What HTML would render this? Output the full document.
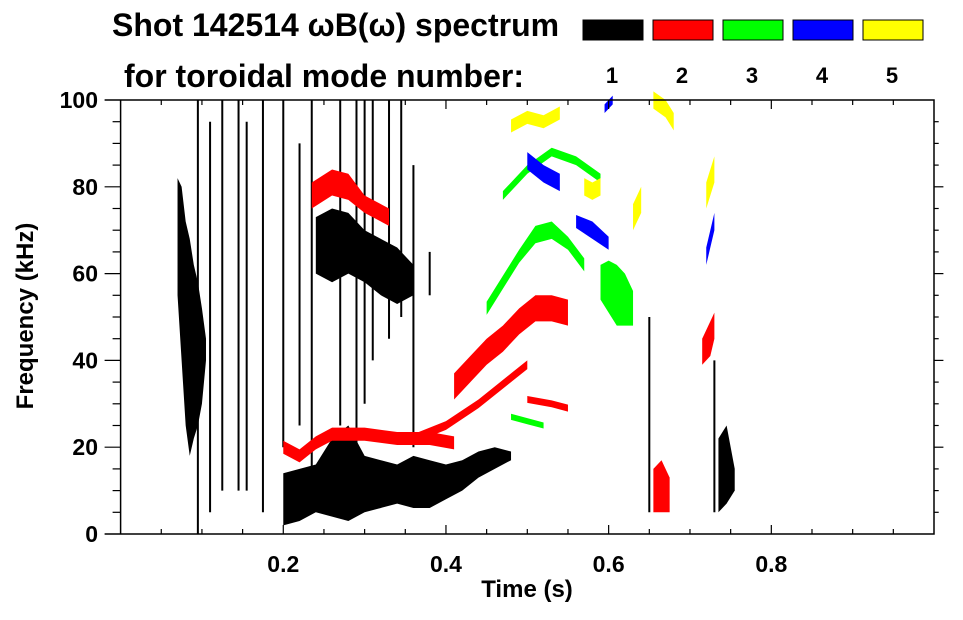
<!DOCTYPE html>
<html><head><meta charset="utf-8"><style>
body{margin:0;background:#fff;width:963px;height:615px;overflow:hidden;font-family:"Liberation Sans",sans-serif}
svg text{font-family:"Liberation Sans",sans-serif;font-weight:bold;fill:#000}
</style></head><body>
<svg id="chart" width="963" height="615">
<text x="112" y="36" font-size="32">Shot 142514 ωB(ω) spectrum</text>
<text x="124" y="87" font-size="32">for toroidal mode number:</text>
<g id="legend"></g>
<g id="marks"></g>
<g id="axes"></g>
<text x="527" y="597" font-size="24" text-anchor="middle">Time (s)</text>
<text transform="translate(33,316) rotate(-90)" font-size="24" text-anchor="middle">Frequency (kHz)</text>
</svg>
<script>
const legendModes=["1","2","3","4","5"];
const legendColors=["#000","#f00","#0f0","#00f","#ff0"];
const xTicks=[0.2,0.4,0.6,0.8];
const yTicks=[0,20,40,60,80,100];
// features: time, low freq, high freq (kHz)
const fBlackEarlyT=[0.07,0.075,0.08,0.085,0.09,0.095,0.1,0.105];
const fBlackEarlyLo=[55,40,25,18,22,25,30,40];
const fBlackEarlyHi=[82,80,72,68,62,58,52,45];
const fBlackLowT=[0.2,0.22,0.24,0.26,0.28,0.3,0.32,0.34,0.36,0.38,0.4,0.42,0.44,0.46,0.48];
const fBlackLowLo=[2,3,5,4,3,5,6,7,6,6,8,10,13,15,17];
const fBlackLowHi=[14,15,16,22,25,18,17,16,18,17,16,17,19,20,19];
const fBlackUpT=[0.24,0.26,0.28,0.3,0.32,0.34,0.36];
const fBlackUpLo=[60,58,60,58,55,53,55];
const fBlackUpHi=[73,75,74,70,68,66,62];
const fBlackEndT=[0.735,0.745,0.755];
const fBlackEndLo=[5,7,10];
const fBlackEndHi=[22,25,15];
const streakT=[0.095,0.11,0.125,0.145,0.155,0.175,0.2,0.22,0.235,0.27,0.29,0.3,0.31,0.33,0.345,0.36,0.38,0.65,0.73];
const streakLo=[0,5,10,10,10,5,20,25,5,25,10,30,40,45,50,20,55,5,5];
const streakHi=[100,95,100,100,95,100,100,90,100,100,100,100,100,100,100,85,65,50,40];
const r1T=[0.235,0.26,0.28,0.3,0.32,0.33], r1F=[78,81,80,76,74,73], r1W=[3,3,3,2,2,2];
const r2T=[0.2,0.22,0.24,0.26,0.3,0.34,0.38,0.41], r2F=[20,18,21,23,23,22,22,21], r2W=[1.5,1.5,1.5,1.5,1.5,1.5,1.5,1.5];
const r3T=[0.41,0.43,0.45,0.47,0.49,0.51,0.53,0.55], r3F=[34,38,42,45,49,52,52,51], r3W=[3,3,3,3,3,3,3,3];
const r4T=[0.36,0.4,0.44,0.48,0.5], r4F=[22,25,30,36,39], r4W=[1,1,1,1,1];
const r5T=[0.5,0.53,0.55], r5F=[31,30,29], r5W=[0.8,0.8,0.8];
const r6T=[0.655,0.665,0.675], r6F=[10,11,9], r6W=[5,6,4];
const r7T=[0.715,0.725,0.73], r7F=[42,45,48], r7W=[3,4,3];
const g1T=[0.45,0.47,0.49,0.51,0.53,0.55,0.57], g1F=[52,58,64,69,70,67,62], g1W=[1.5,1.5,1.5,2,2,1.5,1.5];
const g2T=[0.47,0.5,0.53,0.56,0.59], g2F=[78,84,88,86,82], g2W=[1,1,1,1,1];
const g3T=[0.59,0.6,0.61,0.62,0.63], g3F=[58,57,55,54,52], g3W=[4,6,7,6,4];
const g4T=[0.48,0.5,0.52], g4F=[27,26,25], g4W=[0.7,0.7,0.7];
const b1T=[0.5,0.52,0.54], b1F=[86,83,81], b1W=[2,2,2];
const b2T=[0.56,0.58,0.6], b2F=[72,70,67], b2W=[1.5,2,1.5];
const b3T=[0.595,0.605], b3F=[98,100], b3W=[1,1];
const b4T=[0.72,0.725,0.73], b4F=[64,68,72], b4W=[2,2,2];
const y1T=[0.48,0.5,0.52,0.54], y1F=[94,96,95,97], y1W=[1.5,1.5,1.5,1.5];
const y2T=[0.57,0.58,0.59], y2F=[80,79,80], y2W=[2,2,2];
const y3T=[0.63,0.64], y3F=[73,77], y3W=[3,3];
const y4T=[0.72,0.73], y4F=[78,84], y4W=[3,3];
const y5T=[0.655,0.67,0.68], y5F=[100,98,95], y5W=[2,2,2];

const NS="http://www.w3.org/2000/svg";
const X0=120.6,X1=934,Y0=534,Y1=100;
const xs=t=>X0+t*(X1-X0);
const ys=f=>Y0-f/100*(Y0-Y1);
function mk(tag,attrs,parent){const e=document.createElementNS(NS,tag);for(const k in attrs)e.setAttribute(k,attrs[k]);parent.appendChild(e);return e;}
const marks=document.getElementById('marks'),axes=document.getElementById('axes'),legend=document.getElementById('legend');

legendModes.forEach((m,i)=>{
  const r=mk('rect',{x:583+i*70,y:20,width:60,height:20,fill:legendColors[i],stroke:'#000','stroke-width':1},legend);
  
  
  const t=mk('text',{x:612+i*70,y:83,'font-size':22,'text-anchor':'middle'},legend);
  t.textContent=m;
  
  
});

function area(T,Lo,Hi,color,name){
  let d='M'+T.map((t,i)=>xs(t)+','+ys(Hi[i])).join('L');
  for(let i=T.length-1;i>=0;i--)d+='L'+xs(T[i])+','+ys(Lo[i]);
  const p=mk('path',{d:d+'Z',fill:color},marks);
  
  
}
function ridge(T,F,W,color,name){
  area(T,F.map((f,i)=>f-W[i]),F.map((f,i)=>f+W[i]),color,name);
}
streakT.forEach((t,i)=>{
  const l=mk('line',{x1:xs(t),x2:xs(t),y1:ys(streakLo[i]),y2:ys(streakHi[i]),stroke:'#000','stroke-width':2},marks);
  
  
});
area(fBlackEarlyT,fBlackEarlyLo,fBlackEarlyHi,'#000','mode1-early-burst');
area(fBlackLowT,fBlackLowLo,fBlackLowHi,'#000','mode1-low-band');
area(fBlackUpT,fBlackUpLo,fBlackUpHi,'#000','mode1-upper-band');
area(fBlackEndT,fBlackEndLo,fBlackEndHi,'#000','mode1-end-burst');
ridge(r1T,r1F,r1W,'#f00','mode2-ridge-high');
ridge(r2T,r2F,r2W,'#f00','mode2-ridge-low');
ridge(r3T,r3F,r3W,'#f00','mode2-ridge-rising');
ridge(r4T,r4F,r4W,'#f00','mode2-ridge-thin');
ridge(r5T,r5F,r5W,'#f00','mode2-ridge-30k');
ridge(r6T,r6F,r6W,'#f00','mode2-patch-late');
ridge(r7T,r7F,r7W,'#f00','mode2-patch-end');
ridge(g1T,g1F,g1W,'#0f0','mode3-ridge');
ridge(g2T,g2F,g2W,'#0f0','mode3-ridge-high');
ridge(g3T,g3F,g3W,'#0f0','mode3-blob');
ridge(g4T,g4F,g4W,'#0f0','mode3-ridge-low');
ridge(b1T,b1F,b1W,'#00f','mode4-ridge-1');
ridge(b2T,b2F,b2W,'#00f','mode4-ridge-2');
ridge(b3T,b3F,b3W,'#00f','mode4-ridge-3');
ridge(b4T,b4F,b4W,'#00f','mode4-ridge-4');
ridge(y1T,y1F,y1W,'#ff0','mode5-ridge-1');
ridge(y2T,y2F,y2W,'#ff0','mode5-ridge-2');
ridge(y3T,y3F,y3W,'#ff0','mode5-ridge-3');
ridge(y4T,y4F,y4W,'#ff0','mode5-ridge-4');
ridge(y5T,y5F,y5W,'#ff0','mode5-ridge-5');

const fr=mk('path',{d:`M${X0},${Y1}H${X1}V${Y0}H${X0-16}M${X0},${Y0}V${Y1}H${X0-16}`,fill:'none',stroke:'#000','stroke-width':1.5},axes);


for(let k=1;k<20;k++){
  const t=k*0.05, x=xs(t), len=(k%4==0)?9:5;
  mk('line',{x1:x,x2:x,y1:Y0,y2:Y0-len,stroke:'#000','stroke-width':1.2},axes);
  mk('line',{x1:x,x2:x,y1:Y1,y2:Y1+len,stroke:'#000','stroke-width':1.2},axes);
}
for(let k=1;k<20;k++){
  const f=k*5,y=ys(f),len=(k%4==0)?16:8;
  mk('line',{x1:X0,x2:X0-len,y1:y,y2:y,stroke:'#000','stroke-width':1.2},axes);
  mk('line',{x1:X1,x2:X1+len/1.7,y1:y,y2:y,stroke:'#000','stroke-width':1.2},axes);
}
xTicks.forEach(v=>{
  const t=mk('text',{x:xs(v),y:572,'font-size':23,'text-anchor':'middle'},axes);
  t.textContent=v.toFixed(1);
  
  
});
yTicks.forEach(v=>{
  const t=mk('text',{x:98,y:ys(v)+8,'font-size':23,'text-anchor':'end'},axes);
  t.textContent=v;
  
  
});
</script>
</body></html>
